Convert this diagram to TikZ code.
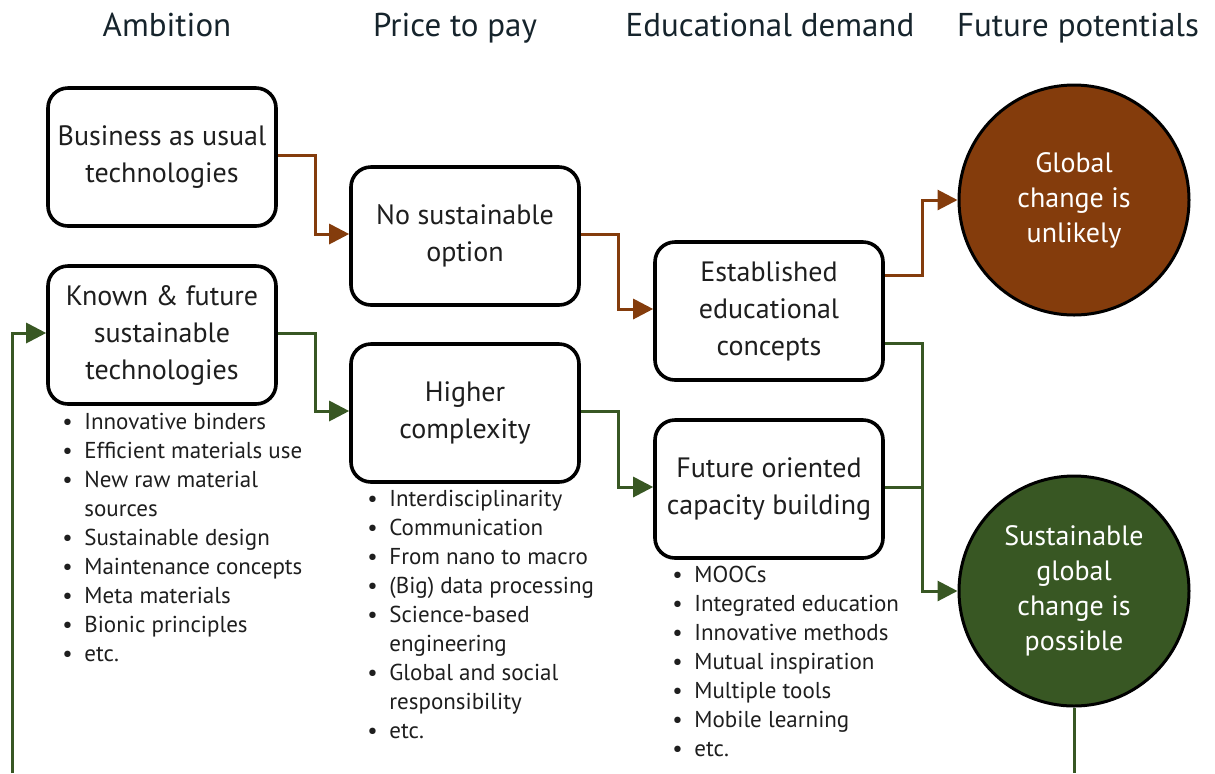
\documentclass[tikz,border=0pt]{standalone}
\usepackage{fontspec}
\setmainfont{PT Sans}
\usepackage{xcolor}
\usetikzlibrary{arrows.meta,positioning,calc}
\definecolor{ambrown}{HTML}{843C0C}
\definecolor{amgreen}{HTML}{385723}
\definecolor{amtitle}{HTML}{16242C}
\definecolor{amtext}{HTML}{1E1E1E}
\newcommand{\blt}[1]{\makebox[11pt][l]{\textbullet}#1}
\newcommand{\cnt}[1]{\hspace*{11pt}#1}
\tikzset{
  coltitle/.style={font=\fontsize{16.5}{19}\selectfont,text=amtitle,inner sep=0pt,anchor=base},
  box/.style={rounded corners=10pt,draw=black,line width=1.8pt,fill=white,align=center,
    minimum width=114pt,minimum height=69pt,inner sep=2pt,text=amtext,
    font=\fontsize{14}{18.5}\selectfont},
  outcome/.style={circle,draw=black,line width=1.5pt,minimum size=115pt,inner sep=0pt,
    align=center,text=white,font=\fontsize{14}{17.5}\selectfont},
  badend/.style={outcome,fill=ambrown},
  goodend/.style={outcome,fill=amgreen},
  items/.style={anchor=north west,align=left,inner sep=0pt,text=amtext,
    font=\fontsize{11.5}{14.5}\selectfont},
  ar/.style={-{Triangle[length=10pt,width=10pt]},line width=1.5pt},
  arb/.style={ar,draw=ambrown},
  arg/.style={ar,draw=amgreen},
}
\begin{document}
\begin{tikzpicture}[x=0.5pt,y=-0.5pt]
  \useasboundingbox (0,0) rectangle (1215,773);
  % column headings
  \node[coltitle] (hAmb) at (167,36) {Ambition};
  \node[coltitle] (hPrice) at (455,36) {Price to pay};
  \node[coltitle] (hEdu) at (770,36) {Educational demand};
  \node[coltitle] (hFut) at (1078,36) {Future potentials};

  % boxes
  \node[box] (bau) at (162,157) {Business as usual\\technologies};
  \node[box] (known) at (162,335) {Known \& future\\sustainable\\technologies};
  \node[box] (noopt) at (465,236) {No sustainable\\option};
  \node[box] (higher) at (465,413) {Higher\\complexity};
  \node[box] (est) at (769,311) {Established\\educational\\concepts};
  \node[box] (future) at (769,489) {Future oriented\\capacity building};
  \node[badend] (unlikely) at (1074,200) {Global\\change is\\unlikely};
  \node[goodend] (possible) at (1074,591) {Sustainable\\global\\change is\\possible};

  % bullet lists
  \node[items] (ambList) at (62,413) {\blt{Innovative binders}\\\blt{Efficient materials use}\\
    \blt{New raw material}\\\cnt{sources}\\\blt{Sustainable design}\\
    \blt{Maintenance concepts}\\\blt{Meta materials}\\\blt{Bionic principles}\\\blt{etc.}};
  \node[items] (priceList) at (367,490) {\blt{Interdisciplinarity}\\\blt{Communication}\\
    \blt{From nano to macro}\\\blt{(Big) data processing}\\\blt{Science-based}\\
    \cnt{engineering}\\\blt{Global and social}\\\cnt{responsibility}\\\blt{etc.}};
  \node[items] (eduList) at (672,566) {\blt{MOOCs}\\\blt{Integrated education}\\
    \blt{Innovative methods}\\\blt{Mutual inspiration}\\\blt{Multiple tools}\\
    \blt{Mobile learning}\\\blt{etc.}};

  % connectors
  \draw[arb] ($(bau.east)+(0,-2)$) -- (315,155) |- ($(noopt.west)+(0,-2)$);
  \draw[arb] ($(noopt.east)+(0,-2)$) -- (618,234) |- ($(est.west)+(0,-2)$);
  \draw[arb] ($(est.east)+(0,-36)$) -- (922,275) |- (unlikely.west);
  \draw[arg] ($(known.east)+(0,-2)$) -- (315,333) |- ($(higher.west)+(0,-2)$);
  \draw[arg] ($(higher.east)+(0,-2)$) -- (618,411) |- ($(future.west)+(0,-2)$);
  \draw[arg] ($(est.east)+(0,32)$) -- (922,343) |- (possible.west);
  \draw[amgreen,line width=1.5pt] ($(future.east)+(0,-2)$) -- (922,487);

  % feedback loop
  \coordinate (loopR) at (1074,773);
  \coordinate (loopL) at (12,773);
  \draw[amgreen,line width=1.5pt] (possible.south) -- (loopR);
  \draw[arg] (loopL) |- ($(known.west)+(0,-2)$);
\end{tikzpicture}
\end{document}
